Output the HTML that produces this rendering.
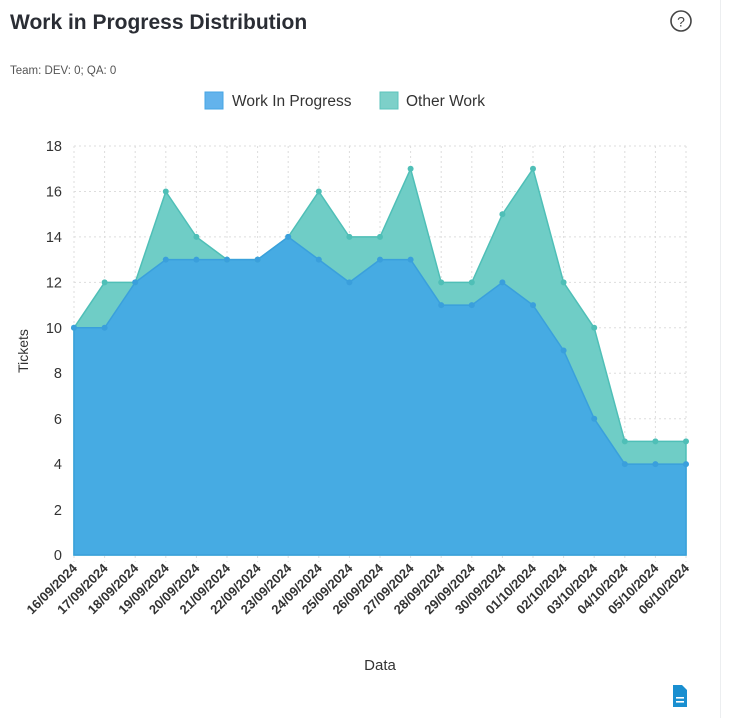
<!DOCTYPE html>
<html><head><meta charset="utf-8"><style>
body{margin:0;width:730px;height:718px;background:#fff;font-family:"Liberation Sans",sans-serif;overflow:hidden}
</style></head><body>
<svg width="730" height="718" xmlns="http://www.w3.org/2000/svg" font-family="Liberation Sans, sans-serif">
<line x1="720.5" y1="0" x2="720.5" y2="718" stroke="#eceef0"/>
<text x="10" y="29" font-size="21" font-weight="bold" fill="#2a2d34">Work in Progress Distribution</text>
<circle cx="681" cy="21" r="10" fill="none" stroke="#444" stroke-width="1.6"/>
<text x="681" y="26.5" font-size="14" text-anchor="middle" fill="#444">?</text>
<text x="10" y="74" font-size="11.5" fill="#555">Team: DEV: 0; QA: 0</text>
<rect x="205" y="92" width="18" height="17" fill="#63b3ec" stroke="#46a5e5" stroke-width="1"/>
<text x="232" y="106" font-size="15.5" fill="#333">Work In Progress</text>
<rect x="380" y="92" width="18" height="17" fill="#7dd0c9" stroke="#5cc3bc" stroke-width="1"/>
<text x="406" y="106" font-size="15.5" fill="#333">Other Work</text>
<g stroke="#ddd" stroke-dasharray="2,3" stroke-width="1">
<line x1="74" y1="146" x2="686" y2="146"/><line x1="74" y1="191.5" x2="686" y2="191.5"/><line x1="74" y1="236.9" x2="686" y2="236.9"/><line x1="74" y1="282.4" x2="686" y2="282.4"/><line x1="74" y1="327.8" x2="686" y2="327.8"/><line x1="74" y1="373.2" x2="686" y2="373.2"/><line x1="74" y1="418.7" x2="686" y2="418.7"/><line x1="74" y1="464.1" x2="686" y2="464.1"/><line x1="74" y1="509.6" x2="686" y2="509.6"/>
<line x1="74" y1="146" x2="74" y2="562"/><line x1="104.6" y1="146" x2="104.6" y2="562"/><line x1="135.2" y1="146" x2="135.2" y2="562"/><line x1="165.8" y1="146" x2="165.8" y2="562"/><line x1="196.4" y1="146" x2="196.4" y2="562"/><line x1="227" y1="146" x2="227" y2="562"/><line x1="257.6" y1="146" x2="257.6" y2="562"/><line x1="288.2" y1="146" x2="288.2" y2="562"/><line x1="318.8" y1="146" x2="318.8" y2="562"/><line x1="349.4" y1="146" x2="349.4" y2="562"/><line x1="380" y1="146" x2="380" y2="562"/><line x1="410.6" y1="146" x2="410.6" y2="562"/><line x1="441.2" y1="146" x2="441.2" y2="562"/><line x1="471.8" y1="146" x2="471.8" y2="562"/><line x1="502.4" y1="146" x2="502.4" y2="562"/><line x1="533" y1="146" x2="533" y2="562"/><line x1="563.6" y1="146" x2="563.6" y2="562"/><line x1="594.2" y1="146" x2="594.2" y2="562"/><line x1="624.8" y1="146" x2="624.8" y2="562"/><line x1="655.4" y1="146" x2="655.4" y2="562"/><line x1="686" y1="146" x2="686" y2="562"/>
</g>
<polygon fill="#6fcdc6" stroke="#4fbfb7" stroke-width="1.5" points="74,327.8 104.6,282.4 135.2,282.4 165.8,191.5 196.4,236.9 227,259.6 257.6,259.6 288.2,236.9 318.8,191.5 349.4,236.9 380,236.9 410.6,168.8 441.2,282.4 471.8,282.4 502.4,214.2 533,168.8 563.6,282.4 594.2,327.8 624.8,441.4 655.4,441.4 686,441.4 686,555 74,555"/>
<polygon fill="#46abe3" stroke="#3aa0dc" stroke-width="1.5" points="74,327.8 104.6,327.8 135.2,282.4 165.8,259.6 196.4,259.6 227,259.6 257.6,259.6 288.2,236.9 318.8,259.6 349.4,282.4 380,259.6 410.6,259.6 441.2,305.1 471.8,305.1 502.4,282.4 533,305.1 563.6,350.5 594.2,418.7 624.8,464.1 655.4,464.1 686,464.1 686,555 74,555"/>
<g fill="#4fbfb7">
<circle cx="74" cy="327.8" r="3"/><circle cx="104.6" cy="282.4" r="3"/><circle cx="135.2" cy="282.4" r="3"/><circle cx="165.8" cy="191.5" r="3"/><circle cx="196.4" cy="236.9" r="3"/><circle cx="227" cy="259.6" r="3"/><circle cx="257.6" cy="259.6" r="3"/><circle cx="288.2" cy="236.9" r="3"/><circle cx="318.8" cy="191.5" r="3"/><circle cx="349.4" cy="236.9" r="3"/><circle cx="380" cy="236.9" r="3"/><circle cx="410.6" cy="168.8" r="3"/><circle cx="441.2" cy="282.4" r="3"/><circle cx="471.8" cy="282.4" r="3"/><circle cx="502.4" cy="214.2" r="3"/><circle cx="533" cy="168.8" r="3"/><circle cx="563.6" cy="282.4" r="3"/><circle cx="594.2" cy="327.8" r="3"/><circle cx="624.8" cy="441.4" r="3"/><circle cx="655.4" cy="441.4" r="3"/><circle cx="686" cy="441.4" r="3"/>
</g>
<g fill="#3a9fdc">
<circle cx="74" cy="327.8" r="3"/><circle cx="104.6" cy="327.8" r="3"/><circle cx="135.2" cy="282.4" r="3"/><circle cx="165.8" cy="259.6" r="3"/><circle cx="196.4" cy="259.6" r="3"/><circle cx="227" cy="259.6" r="3"/><circle cx="257.6" cy="259.6" r="3"/><circle cx="288.2" cy="236.9" r="3"/><circle cx="318.8" cy="259.6" r="3"/><circle cx="349.4" cy="282.4" r="3"/><circle cx="380" cy="259.6" r="3"/><circle cx="410.6" cy="259.6" r="3"/><circle cx="441.2" cy="305.1" r="3"/><circle cx="471.8" cy="305.1" r="3"/><circle cx="502.4" cy="282.4" r="3"/><circle cx="533" cy="305.1" r="3"/><circle cx="563.6" cy="350.5" r="3"/><circle cx="594.2" cy="418.7" r="3"/><circle cx="624.8" cy="464.1" r="3"/><circle cx="655.4" cy="464.1" r="3"/><circle cx="686" cy="464.1" r="3"/>
</g>
<g font-size="14.5" fill="#333" text-anchor="end">
<text x="62" y="151">18</text><text x="62" y="196.5">16</text><text x="62" y="242">14</text><text x="62" y="287.5">12</text><text x="62" y="333">10</text><text x="62" y="378">8</text><text x="62" y="424">6</text><text x="62" y="469">4</text><text x="62" y="515">2</text><text x="62" y="560">0</text>
</g>
<text transform="translate(28,351) rotate(-90)" font-size="14" fill="#333" text-anchor="middle">Tickets</text>
<g font-size="13" font-weight="bold" fill="#333" text-anchor="end">
<text transform="translate(78,569) rotate(-45)">16/09/2024</text>
<text transform="translate(108.6,569) rotate(-45)">17/09/2024</text>
<text transform="translate(139.2,569) rotate(-45)">18/09/2024</text>
<text transform="translate(169.8,569) rotate(-45)">19/09/2024</text>
<text transform="translate(200.4,569) rotate(-45)">20/09/2024</text>
<text transform="translate(231,569) rotate(-45)">21/09/2024</text>
<text transform="translate(261.6,569) rotate(-45)">22/09/2024</text>
<text transform="translate(292.2,569) rotate(-45)">23/09/2024</text>
<text transform="translate(322.8,569) rotate(-45)">24/09/2024</text>
<text transform="translate(353.4,569) rotate(-45)">25/09/2024</text>
<text transform="translate(384,569) rotate(-45)">26/09/2024</text>
<text transform="translate(414.6,569) rotate(-45)">27/09/2024</text>
<text transform="translate(445.2,569) rotate(-45)">28/09/2024</text>
<text transform="translate(475.8,569) rotate(-45)">29/09/2024</text>
<text transform="translate(506.4,569) rotate(-45)">30/09/2024</text>
<text transform="translate(537,569) rotate(-45)">01/10/2024</text>
<text transform="translate(567.6,569) rotate(-45)">02/10/2024</text>
<text transform="translate(598.2,569) rotate(-45)">03/10/2024</text>
<text transform="translate(628.8,569) rotate(-45)">04/10/2024</text>
<text transform="translate(659.4,569) rotate(-45)">05/10/2024</text>
<text transform="translate(690,569) rotate(-45)">06/10/2024</text>
</g>
<text x="380" y="670" font-size="15" fill="#333" text-anchor="middle">Data</text>
<path d="M673,685 h9 l5,5 v17 h-14 z" fill="#1a8fd0"/>
<rect x="676" y="697" width="8" height="1.6" fill="#fff"/><rect x="676" y="701" width="8" height="1.6" fill="#fff"/>
</svg>
</body></html>
